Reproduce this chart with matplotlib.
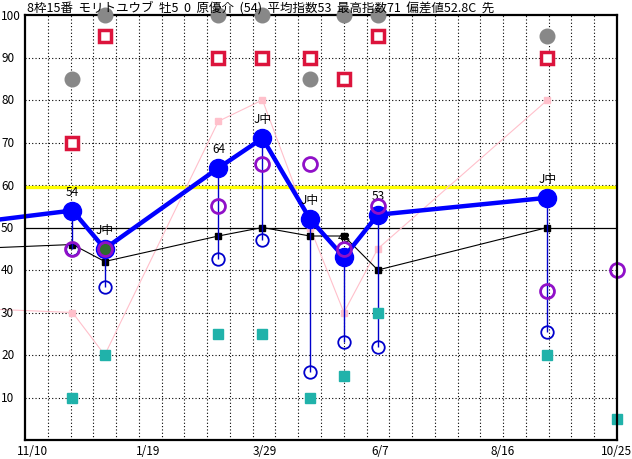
import matplotlib
matplotlib.use("Agg")
import matplotlib.pyplot as plt
import matplotlib.transforms as mtransforms
import numpy as np
import pandas as pd

plt.rcParams['font.family'] = ['Noto Sans CJK JP', 'DejaVu Sans']

title_parts = ["8枠15番", "モリトユウブ", "牡5", "0", "原優介", "(54)", "平均指数53",
               "最高指数71", "偏差値52.8C", "先"]

start_date = "2022-11-10"
end_date = "2023-10-25"
tick_dates = ["2022-11-10", "2023-01-19", "2023-03-29", "2023-06-07", "2023-08-16", "2023-10-25"]
tick_labels = ["11/10", "1/19", "3/29", "6/7", "8/16", "10/25"]
y_ticks = [10, 20, 30, 40, 50, 60, 70, 80, 90, 100]

# one race before the window, eight past races, and the upcoming race
race_dates = ["2022-10-08", "2022-12-08", "2022-12-27", "2023-03-04", "2023-03-30",
              "2023-04-27", "2023-05-17", "2023-06-06", "2023-09-14", "2023-10-25"]

index_vals = [51, 54, 45, 64, 71, 52, 43, 53, 57]
index_labels = ["", "54", "J中", "64", "J中", "J中", "43", "53", "J中"]
avg_vals = [45, 46, 42, 48, 50, 48, 48, 40, 50]
pink_vals = [31, 30, 20, 75, 80, 50, 30, 45, 80]
low_vals = [45, 36, 42.5, 47, 16, 23, 22, 25.5]
ring_vals = [45, 45, 55, 65, 65, 45, 55, 35, 40]
gray_vals = [85, 100, 100, 100, 85, 100, 100, 95]
red_vals = [70, 95, 90, 90, 90, 85, 95, 90]
teal_vals = [10, 20, 25, 25, 10, 15, 30, 20, 5]
green_race = 2
green_val = 45
threshold = 59.5

start = pd.Timestamp(start_date)
x_all = np.array((pd.to_datetime(race_dates) - start).days, dtype=float)
x_end = float((pd.Timestamp(end_date) - start).days)
x_ticks = np.array((pd.to_datetime(tick_dates) - start).days, dtype=float)

W, H = 632, 460
fig = plt.figure(figsize=(W / 100, H / 100), dpi=100)
ax = fig.add_axes([25 / W, 19 / H, 592 / W, 425 / H])
ax.set_xlim(0, x_end)
ax.set_ylim(0, 100)
ax.set_xticks([])
ax.set_yticks([])
for s in ax.spines.values():
    s.set_linewidth(1.6)
    s.set_color('black')
    s.set_zorder(10)

# grid
for v in y_ticks[:-1]:
    if v == 50:
        ax.axhline(v, color='black', lw=0.9, zorder=1)
    else:
        ax.axhline(v, color='black', lw=0.8, ls=(0, (1, 2)), zorder=1)
for gx in np.linspace(0, x_end, 27)[1:-1]:
    ax.axvline(gx, color='black', lw=0.8, ls=(0, (1, 2)), zorder=1)

ax.axhline(threshold, color='#ffff00', lw=2.4, zorder=2)

# y labels
ytr = mtransforms.blended_transform_factory(fig.transFigure, ax.transData)
for v in y_ticks:
    fig.text(1 / W, v, str(v), transform=ytr, ha='left', va='center', fontsize=8.5)

# x labels
xtr = mtransforms.blended_transform_factory(ax.transData, fig.transFigure)
for i, (xv, lab) in enumerate(zip(x_ticks, tick_labels)):
    if i == len(tick_labels) - 1:
        fig.text(1.0, 8 / H, lab, ha='right', va='center', fontsize=8.5)
    else:
        t = mtransforms.offset_copy(xtr, fig=fig, x=-8, y=0, units='dots')
        fig.text(xv, 8 / H, lab, transform=t, ha='left', va='center', fontsize=8.5)

fig.text(27 / W, 1 - 8 / H, "  ".join(title_parts), ha='left', va='center', fontsize=9)

xr = x_all[1:9]

# pink and black trend lines
ax.plot(x_all[:9], pink_vals, color='#ffc0cb', lw=0.8, clip_on=False, zorder=3)
ax.plot(xr, pink_vals[1:], 's', ms=4, color='#ffc0cb', zorder=3)
ax.plot(x_all[:9], avg_vals, color='black', lw=0.8, clip_on=False, zorder=3)
ax.plot(xr, avg_vals[1:], 's', ms=4.5, color='black', zorder=3)

# range sticks
ax.vlines(xr, low_vals, index_vals[1:], color='#0000cc', lw=1, zorder=4)
ax.plot(xr, low_vals, 'o', ms=9, mfc='none', mec='#0000cc', mew=1.3, zorder=7)

# index line
ax.plot(x_all[:9], index_vals, color='#0000ff', lw=3.2, clip_on=False, zorder=5)
ax.plot(xr, index_vals[1:], 'o', ms=13, color='#0000ff', zorder=6)
ax.plot([x_all[green_race]], [green_val], 'o', ms=10, color='#2e6b2e', zorder=6.5)

for xv, v, lab in zip(xr, index_vals[1:], index_labels[1:]):
    ax.annotate(lab, (xv, v), xytext=(0, 14), textcoords='offset points',
                ha='center', va='center', fontsize=8.5, zorder=6)

ax.plot(x_all[1:], ring_vals, 'o', ms=10, mfc='none', mec='#9010c8', mew=2.0,
        clip_on=False, zorder=8)
ax.plot(x_all[1:], teal_vals, 's', ms=7, color='#20b2aa', clip_on=False, zorder=8)
ax.plot(xr, red_vals, 's', ms=8, mfc='white', mec='#dc143c', mew=2.5, clip_on=False, zorder=8)
ax.plot(xr, gray_vals, 'o', ms=10.5, color='#888888', clip_on=False, zorder=11)

fig.savefig("out.png", dpi=100)
